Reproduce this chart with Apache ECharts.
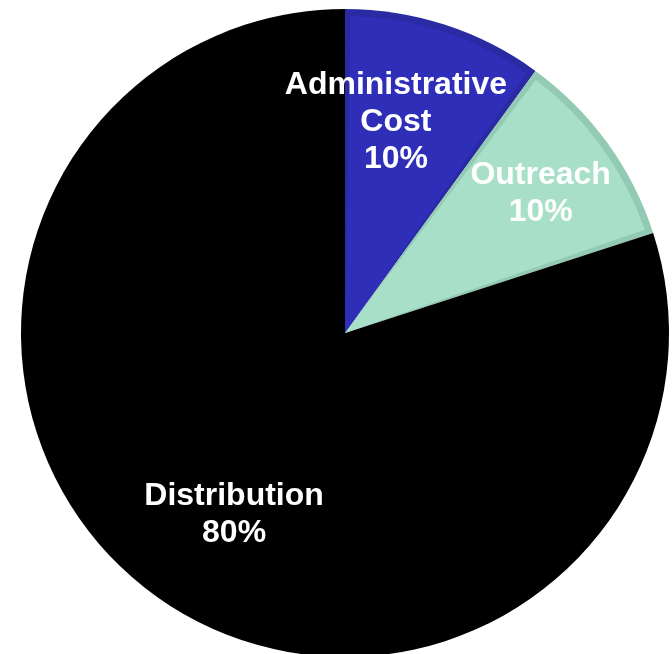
<!DOCTYPE html>
<html>
<head>
<meta charset="utf-8">
<script src="https://cdn.jsdelivr.net/npm/echarts@6/dist/echarts.min.js"></script>
<style>
html,body{margin:0;padding:0;background:#fff;}
#chart{width:672px;height:654px;}
</style>
</head>
<body>
<div id="chart"></div>
<script>
const categories = ['Administrative\nCost', 'Outreach', 'Distribution'];
const values = [10, 10, 80];
const fillColors = ['#2E2EB9', '#A7DFC8', '#000000'];
const bevelColors = ['#2A2AA2', '#92CAB3', '#000000'];
const labelShift = [[1, -57], [65, -44], [-16, 51]];

const chart = echarts.init(document.getElementById('chart'));
const center = [345, 333];

chart.setOption({
  animation: false,
  backgroundColor: '#ffffff',
  series: [
    {
      type: 'pie',
      center: center,
      radius: [0, 324],
      startAngle: 90,
      clockwise: true,
      silent: true,
      label: { show: false },
      labelLine: { show: false },
      data: categories.map((c, i) => ({
        name: c, value: values[i],
        itemStyle: { color: bevelColors[i], borderWidth: 0 }
      }))
    },
    {
      type: 'pie',
      center: center,
      radius: [0, 317],
      startAngle: 90,
      clockwise: true,
      padAngle: 2,
      silent: true,
      avoidLabelOverlap: false,
      labelLine: { show: false },
      label: {
        show: true,
        position: 'inside',
        formatter: p => p.name + '\n' + p.value + '%',
        color: '#ffffff',
        fontFamily: '"Liberation Sans", Arial, sans-serif',
        fontWeight: 'bold',
        fontSize: 32,
        lineHeight: 37,
        align: 'center'
      },
      labelLayout: function (params) {
        const s = labelShift[params.dataIndex];
        return { dx: s[0], dy: s[1] };
      },
      data: categories.map((c, i) => ({
        name: c, value: values[i],
        itemStyle: { color: i === 2 ? 'rgba(0,0,0,0)' : fillColors[i], borderWidth: 0 }
      }))
    }
  ]
});
</script>
</body>
</html>
